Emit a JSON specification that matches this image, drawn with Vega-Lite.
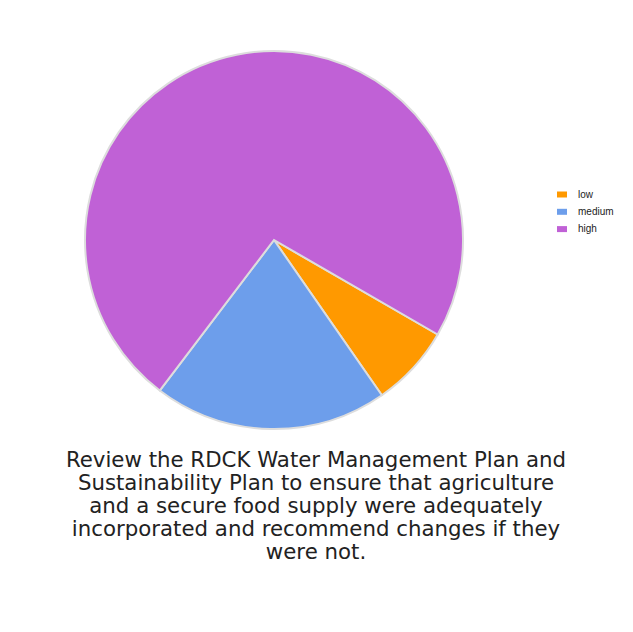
{
  "$schema": "https://vega.github.io/schema/vega-lite/v6.json",
  "width": 548,
  "height": 480,
  "padding": 0,
  "background": "white",
  "data": {"values": [
    {"priority": "low", "count": 7},
    {"priority": "medium", "count": 20},
    {"priority": "high", "count": 73}
  ]},
  "title": {
    "text": ["Review the RDCK Water Management Plan and", "Sustainability Plan to ensure that agriculture", "and a secure food supply were adequately", "incorporated and recommend changes if they", "were not."],
    "orient": "bottom",
    "anchor": "middle",
    "frame": "group",
    "offset": -30,
    "dx": 42,
    "font": "DejaVu Sans",
    "fontSize": 21.3,
    "fontWeight": "normal",
    "lineHeight": 23,
    "color": "#222222"
  },
  "mark": {"type": "arc", "outerRadius": 189, "stroke": "#dddddd", "strokeWidth": 2},
  "encoding": {
    "theta": {"field": "count", "type": "quantitative", "stack": true, "scale": {"range": [2.0944, 8.3776]}},
    "color": {
      "field": "priority",
      "type": "nominal",
      "sort": ["low", "medium", "high"],
      "scale": {"domain": ["low", "medium", "high"], "range": ["#ff9900", "#6d9eeb", "#c061d6"]},
      "legend": {
        "title": null,
        "orient": "none",
        "legendX": 557,
        "legendY": 189.5,
        "symbolType": "M-1,-0.6H1V0.6H-1Z",
        "symbolSize": 100,
        "symbolStrokeWidth": 0,
        "labelFont": "Liberation Sans",
        "labelFontSize": 10,
        "labelColor": "#222222",
        "labelOffset": 11,
        "rowPadding": 7.3
      }
    },
    "order": {"field": "count", "sort": "ascending"}
  }
}
